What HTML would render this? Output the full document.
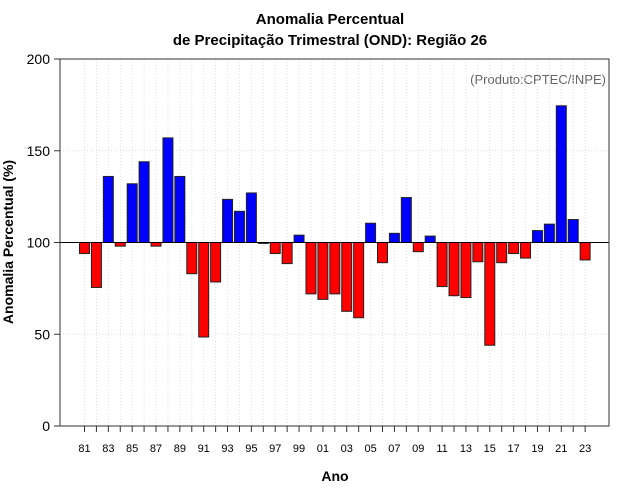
<!DOCTYPE html>
<html><head><meta charset="utf-8"><style>body{margin:0;background:#fff}svg{display:block;font-family:"Liberation Sans",sans-serif}</style></head>
<body>
<svg id="chart" width="640" height="500">
<text x="330" y="24" text-anchor="middle" font-size="15" font-weight="bold">Anomalia Percentual</text>
<text x="330" y="45" text-anchor="middle" font-size="15" font-weight="bold">de Precipitação Trimestral (OND): Região 26</text>
<text x="606" y="84" text-anchor="end" font-size="13" fill="#666">(Produto:CPTEC/INPE)</text>
<text x="335" y="481" text-anchor="middle" font-size="14" font-weight="bold">Ano</text>
<text transform="translate(13,242) rotate(-90)" text-anchor="middle" font-size="14" font-weight="bold">Anomalia Percentual (%)</text>
<g id="grid"></g><g id="bars"></g><g id="axes"></g>
</svg>
<script>
const years=["81","82","83","84","85","86","87","88","89","90","91","92","93","94","95","96","97","98","99","00","01","02","03","04","05","06","07","08","09","10","11","12","13","14","15","16","17","18","19","20","21","22","23"];
const values=[94,75.5,136,98,132,144,98,157,136,83,48.5,78.5,123.5,117,127,99.5,94,88.5,104,72,69,72,62.5,59,110.5,89,105,124.5,95,103.5,76,71,70,89.5,44,89,94,91.5,106.5,110,174.5,112.5,90.5];
const yTicks=[0,50,100,150,200];
const NS="http://www.w3.org/2000/svg";
const L=60,R=609,T=59,B=426;
const y=v=>B-(v/200)*(B-T);
const step=11.92;
const x=i=>84.5+i*step;
function mk(tag,attrs,parent,txt){const e=document.createElementNS(NS,tag);for(const k in attrs)e.setAttribute(k,attrs[k]);if(txt!==undefined)e.textContent=txt;parent.appendChild(e);return e;}
const grid=document.getElementById('grid'),bars=document.getElementById('bars'),axes=document.getElementById('axes');
years.forEach((yr,i)=>{const g=mk('line',{x1:x(i),x2:x(i),y1:T,y2:B,stroke:'#ddd','stroke-dasharray':'1,2'},grid);

});
yTicks.forEach(v=>{if(v>0&&v<200){const g=mk('line',{x1:L,x2:R,y1:y(v),y2:y(v),stroke:'#ddd','stroke-dasharray':'1,2'},grid);

}
const t=mk('line',{x1:L-6,x2:L,y1:y(v),y2:y(v),stroke:'#333'},axes);


const l=mk('text',{x:L-10,y:y(v)+5,'text-anchor':'end','font-size':'14'},axes,String(v));

});
values.forEach((v,i)=>{const top=Math.min(y(v),y(100)),h=Math.abs(y(v)-y(100));
const r=mk('rect',{x:x(i)-5,y:top,width:10,height:Math.max(h,0.5),fill:v>=100?'#0000ff':'#ff0000',stroke:'#222','stroke-width':1},bars);

});
const ref=mk('line',{x1:L,x2:R,y1:y(100),y2:y(100),stroke:'#000'},bars);


const box=mk('rect',{x:L,y:T,width:R-L,height:B-T,fill:'none',stroke:'#333'},axes);


years.forEach((yr,i)=>{const t=mk('line',{x1:x(i),x2:x(i),y1:B,y2:B+6,stroke:'#333'},axes);


if(i%2===0){const l=mk('text',{x:x(i),y:B+26,'text-anchor':'middle','font-size':'11'},axes,yr);

}});
</script>
</body></html>
